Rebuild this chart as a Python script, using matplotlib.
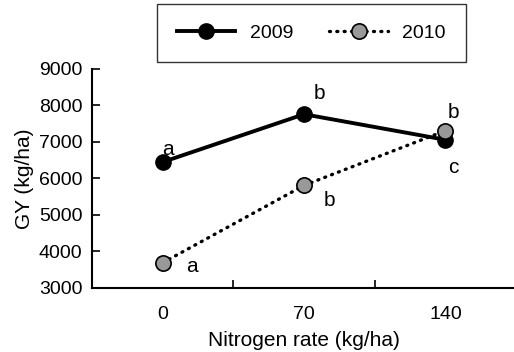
import matplotlib
matplotlib.use("Agg")
import matplotlib.pyplot as plt
import numpy as np

plt.rcParams["font.family"] = ["Liberation Sans", "DejaVu Sans"]

rates = ["0", "70", "140"]
gy_2009 = [6450, 7760, 7060]
gy_2010 = [3690, 5810, 7310]
letters_2009 = ["a", "b", "c"]
letters_2010 = ["a", "b", "b"]
# label offsets in points from each marker
offsets_2009 = [(4, 9), (11, 15), (6, -20)]
offsets_2010 = [(21, -3), (18, -11), (6, 13)]

fig = plt.figure(figsize=(5.14, 3.52), dpi=100)
ax = fig.add_axes([0.179, 0.182, 0.825, 0.622])

x = np.arange(len(rates))
ax.plot(x, gy_2009, "-o", color="black", lw=2.8, ms=11,
        mfc="black", mec="black", mew=1, label="2009", zorder=3)
ax.plot(x, gy_2010, ":o", color="black", lw=2.4, ms=11,
        mfc="#999999", mec="black", mew=1.2, label="2010", zorder=4,
        dash_capstyle="round", dashes=(0.3, 1.9))

for xi, yi, t, off in zip(x, gy_2009, letters_2009, offsets_2009):
    ax.annotate(t, (xi, yi), xytext=off, textcoords="offset points",
                ha="center", va="center", fontsize=15)
for xi, yi, t, off in zip(x, gy_2010, letters_2010, offsets_2010):
    ax.annotate(t, (xi, yi), xytext=off, textcoords="offset points",
                ha="center", va="center", fontsize=15)

ax.set_xlim(-0.5, 2.5)
ax.set_ylim(3000, 9000)
ax.set_yticks(np.arange(3000, 9001, 1000))
ax.set_xticks(x)
ax.set_xticklabels(rates)
ax.tick_params(axis="x", length=0, pad=13, labelsize=14)
ax.set_xticks([0.5, 1.5], minor=True)
ax.tick_params(axis="x", which="minor", length=6, width=1.2, direction="in")
ax.tick_params(axis="y", length=6, width=1.2, direction="in", labelsize=14, pad=7)
for s in ["top", "right"]:
    ax.spines[s].set_visible(False)
for s in ["left", "bottom"]:
    ax.spines[s].set_linewidth(1.5)

ax.set_xlabel("Nitrogen rate (kg/ha)", fontsize=15, labelpad=6)
ax.set_ylabel("GY (kg/ha)", fontsize=15, labelpad=3)

leg = fig.legend(loc="center", bbox_to_anchor=(0.606, 0.906), ncol=2,
                 fontsize=14, frameon=True, fancybox=False,
                 handlelength=3.0, handletextpad=0.75, columnspacing=1.85,
                 borderpad=1.05)
leg.get_frame().set_edgecolor("black")
leg.get_frame().set_linewidth(1.0)

fig.savefig("out.png", dpi=100)
